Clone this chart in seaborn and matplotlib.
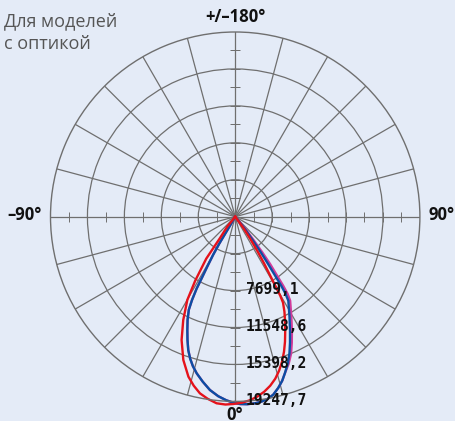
import numpy as np
import pandas as pd
import matplotlib
matplotlib.use("Agg")
import matplotlib.pyplot as plt
import seaborn as sns

# ring values (cd), outermost = plot limit
rings = [3849.5, 7699.1, 11548.6, 15398.2, 19247.7]
ring_labels = ["7699,1", "11548,6", "15398,2", "19247,7"]

# luminous intensity curves, angle in degrees (0 = down, +90 = right), value in cd
red_angles = [-39, -38.7, -35.5, -34.6, -32.0, -29.9, -26.7, -23.5, -19.9, -16.3,
              -13.8, -11.3, -8.6, -5.7, -3.0, -0.6, 2.2, 4.6, 7.0, 9.4,
              11.7, 13.9, 15.9, 17.9, 19.9, 21.7, 23.5, 25.4, 27.4, 29.1,
              29.7, 30.1, 30.7, 31.7, 32.9, 34.3, 36.0, 36.5]
red_values = [0, 1330, 2690, 5320, 7870, 10010, 12050, 14010, 15880, 17370,
              18130, 18770, 19190, 19540, 19600, 19520, 19390, 19190, 18890, 18490,
              17990, 17390, 16690, 15880, 14950, 14030, 13070, 12120, 11150, 10250,
              9470, 8430, 7150, 5750, 4220, 2770, 1420, 0]

blue_angles = [-30, -30.1, -30.5, -30.65, -30.07, -29.25, -28.6, -28.2, -27.4, -26.5,
               -24.8, -22.9, -21.2, -19.4, -17.6, -15.8, -13.8, -11.1, -8.3, -5.4,
               -2.8, -0.6, 1.5, 3.7, 6.1, 8.0, 9.9, 12.05, 14.1, 16.0,
               17.6, 19.65, 21.6, 23.5, 25.8, 28.5, 32.3, 33.15, 33.7, 34.1,
               34.8, 35.7, 36.7, 38.4, 39]
blue_values = [0, 1140, 2060, 3270, 4580, 5970, 7240, 8510, 9780, 10830,
               11830, 12820, 13750, 14730, 15520, 16190, 16810, 17530, 18250, 18790,
               19150, 19380, 19530, 19580, 19550, 19470, 19310, 18970, 18400, 17780,
               17120, 16270, 15350, 14320, 13120, 11860, 10360, 9580, 8640, 7430,
               6030, 4550, 3050, 1590, 0]

pink_angles = [-30, -30.1, -30.5, -30.65, -30.07, -29.25, -28.6, -28.2, -27.4, -26.5,
               -24.8, -22.9, -21.2, -19.4, -17.6, -15.8, -13.8, -11.1, -8.3, -5.4,
               -2.8, -0.6, 1.5, 3.7, 6.1, 8.0, 9.9, 12.05, 14.1, 16.0,
               17.6, 20.0, 22.2, 24.2, 26.6, 29.3, 33.2, 34.2, 34.8, 35.4,
               36.4, 37.25, 38.2, 39.8, 40.5]
pink_values = [0, 1140, 2060, 3270, 4580, 5970, 7240, 8510, 9780, 10830,
               11830, 12820, 13750, 14730, 15520, 16190, 16810, 17530, 18250, 18790,
               19150, 19380, 19530, 19580, 19550, 19470, 19310, 18970, 18400, 17780,
               17120, 16300, 15410, 14390, 13200, 11950, 10460, 9700, 8760, 7550,
               6150, 4650, 3120, 1630, 0]

bg = "#e4ebf7"
grid_col = "#6f6f6f"

df = pd.concat([
    pd.DataFrame({"theta": np.deg2rad(pink_angles), "cd": pink_values, "curve": "pink"}),
    pd.DataFrame({"theta": np.deg2rad(blue_angles), "cd": blue_values, "curve": "blue"}),
    pd.DataFrame({"theta": np.deg2rad(red_angles), "cd": red_values, "curve": "red"}),
])
palette = {"pink": "#d23c9b", "blue": "#0b4fa3", "red": "#e5121b"}

W, H = 456, 421
fig = plt.figure(figsize=(W / 100, H / 100), dpi=100, facecolor=bg)
cx, cy, R = 235.2, 216.7, 184.7
ax = fig.add_axes([(cx - R) / W, (H - cy - R) / H, 2 * R / W, 2 * R / H], projection="polar")
ax.set_facecolor(bg)
ax.set_theta_zero_location("S")
ax.set_theta_direction(1)
ax.set_axisbelow(True)

sns.lineplot(data=df, x="theta", y="cd", hue="curve", palette=palette, sort=False,
             estimator=None, lw=1.7, legend=False, ax=ax)
for ln in ax.lines:
    ln.set_clip_on(False)
    ln.set_solid_joinstyle("round")

ax.set_rlim(0, rings[-1])
ax.set_rgrids(rings[:-1], labels=[])
ax.set_thetagrids(np.arange(0, 360, 15), labels=[])
ax.grid(True, color=grid_col, lw=0.9)
ax.spines["polar"].set_color(grid_col)
ax.spines["polar"].set_linewidth(1.0)
ax.set_xlabel("")
ax.set_ylabel("")

# small ticks along the main axes at half-ring steps
half = [rings[0] / 2 * k for k in range(1, 10)]
for a, m in [(0, "_"), (180, "_"), (90, "|"), (-90, "|")]:
    ax.plot([np.deg2rad(a)] * len(half), half, ls="none", marker=m, ms=6.5,
            mew=0.7, color=grid_col, zorder=1)

def px(x, y):
    return x / W, 1 - y / H

fig.text(*px(4, 12), "Для моделей\nс оптикой", fontsize=13, color="#555555",
         family="Open Sans", va="top", ha="left", linespacing=1.35)
fig.text(*px(235, 17), "+/–180°", fontsize=12, weight="bold", family="Open Sans",
         ha="center", va="center", color="#111111")
fig.text(*px(25, 215), "–90°", fontsize=12, weight="bold", family="Open Sans",
         ha="center", va="center", color="#111111")
fig.text(*px(442, 215), "90°", fontsize=12, weight="bold", family="Open Sans",
         ha="center", va="center", color="#111111")
fig.text(*px(235, 419.5), "0°", fontsize=12, weight="bold", family="Open Sans",
         ha="center", va="baseline", color="#111111")

for val, lab in zip(rings[1:], ring_labels):
    ax.annotate(lab, (0, val), xytext=(7.5, 1), textcoords="offset points",
                fontsize=10.5, weight="bold", family="DejaVu Sans Mono",
                ha="left", va="center", color="#111111", zorder=5)

fig.savefig("out.png", dpi=100, facecolor=bg)
